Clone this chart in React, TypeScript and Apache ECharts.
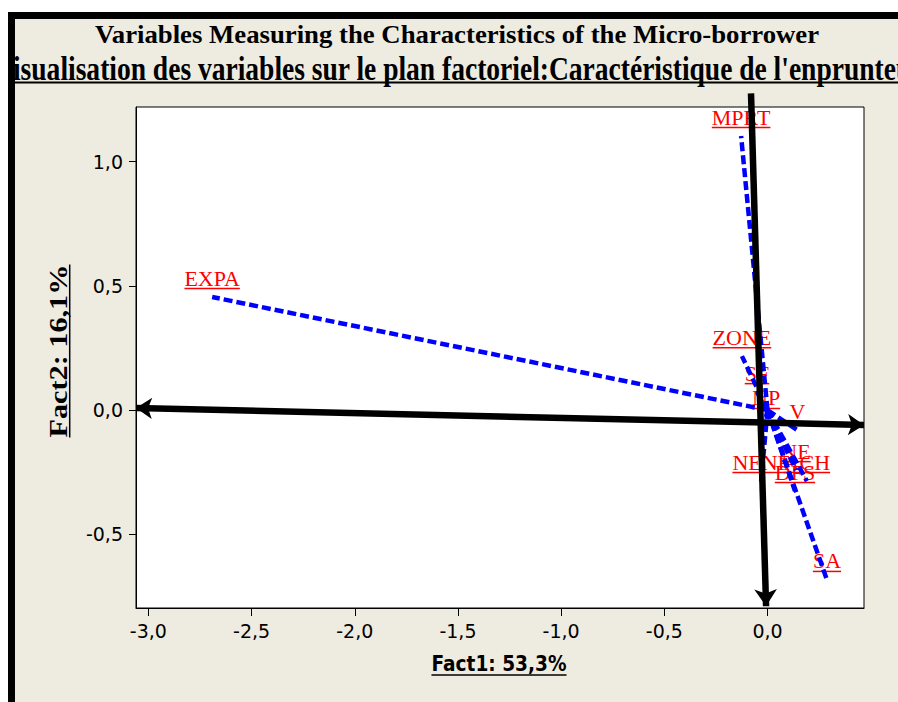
import React, { useEffect, useRef } from 'react';
import * as echarts from 'echarts';

// ---- data ----
const variableNames = ['MPRT', 'EXPA', 'ZONE', 'SF', 'NP', 'V', 'NE', 'NENF', 'ACH', 'DFS', 'SA'];
const fact1Values = [-0.128, -2.691, -0.124, -0.051, -0.007, 0.145, 0.138, -0.031, 0.191, 0.133, 0.288];
const fact2Values = [1.103, 0.455, 0.217, 0.072, -0.028, -0.081, -0.242, -0.286, -0.286, -0.326, -0.684];

const xTickValues = [-3, -2.5, -2, -1.5, -1, -0.5, 0];
const yTickValues = [-0.5, 0, 0.5, 1];
const xRange = [-3.06, 0.4675];
const yRange = [-0.797, 1.22];

// hand-drawn factor axes (arrows) in data coordinates
const horizontalArrow = [[-3.06, 0.008], [0.4675, -0.06]];
const verticalArrow = [[-0.08, 1.275], [-0.007, -0.79]];

const titleLine1 = 'Variables Measuring the Characteristics of the Micro-borrower';
const titleLine2 = "Visualisation des variables sur le plan factoriel:Caractéristique de l'enprunteur";
const xAxisTitle = 'Fact1: 53,3%';
const yAxisTitle = 'Fact2: 16,1%';

const measureCtx = document.createElement('canvas').getContext('2d') as CanvasRenderingContext2D;
function measure(text: string, font: string): number {
  measureCtx.font = font;
  return measureCtx.measureText(text).width;
}

const fmt = (v: number) => v.toFixed(1).replace('.', ',');

export default function App() {
  const ref = useRef<HTMLDivElement>(null);
  useEffect(() => {
    if (!ref.current) return;
    const chart = echarts.init(ref.current, undefined, { renderer: 'svg' });

    const labelFont = "22px 'Liberation Serif'";
    const t1Font = "bold 26px 'Liberation Serif'";
    const t2Font = "bold 33px 'Liberation Serif'";
    const yTitleFont = "bold 26px 'Liberation Serif'";
    const xTitleFont = "bold 22px 'DejaVu Sans'";

    const s1 = 725 / measure(titleLine1, t1Font);
    const visiblePart = titleLine2.slice(1, titleLine2.indexOf('enprunte') + 8);
    const s2 = 884 / measure(visiblePart, t2Font);
    const t2Start = 14 - s2 * measure('V', t2Font);
    const t2Width = measure(titleLine2, t2Font);
    const yTitleW = measure(yAxisTitle, yTitleFont);
    const sy = 173 / yTitleW;
    const xTitleW = measure(xAxisTitle, xTitleFont);
    const sx = 135 / xTitleW;

    const option: any = {
      animation: false,
      backgroundColor: 'transparent',
      grid: {
        left: 136, right: 34, top: 107, bottom: 94,
        show: true, backgroundColor: '#ffffff', borderColor: '#000', borderWidth: 1,
      },
      xAxis: {
        type: 'value', min: xRange[0], max: xRange[1],
        axisLine: { show: true, onZero: false, lineStyle: { color: '#000', width: 1 } },
        axisTick: { show: true, length: 8, customValues: xTickValues, lineStyle: { color: '#000' } },
        axisLabel: {
          customValues: xTickValues, formatter: (v: number) => fmt(v), margin: 13,
          color: '#000', fontFamily: 'DejaVu Sans', fontSize: 19,
        },
        splitLine: { show: false },
      },
      yAxis: {
        type: 'value', min: yRange[0], max: yRange[1],
        axisLine: { show: true, onZero: false, lineStyle: { color: '#000', width: 1 } },
        axisTick: { show: true, length: 7, customValues: yTickValues, lineStyle: { color: '#000' } },
        axisLabel: {
          customValues: yTickValues, formatter: (v: number) => fmt(v), margin: 13,
          color: '#000', fontFamily: 'DejaVu Sans', fontSize: 19,
        },
        splitLine: { show: false },
      },
      series: [
        {
          type: 'custom', z: 2, clip: false,
          data: variableNames.map((n, i) => [fact1Values[i], fact2Values[i]]),
          renderItem: (params: any, api: any) => {
            const p = api.coord([api.value(0), api.value(1)]);
            const name = variableNames[params.dataIndex];
            const w = measure(name, labelFont);
            return {
              type: 'group',
              children: [
                {
                  type: 'text',
                  style: {
                    text: name, x: p[0], y: p[1] - 19, font: labelFont, fill: '#ff0000',
                    align: 'center', verticalAlign: 'middle', textAlign: 'center', textVerticalAlign: 'middle',
                  },
                },
                {
                  type: 'line',
                  shape: { x1: p[0] - w / 2, y1: p[1] - 8.5, x2: p[0] + w / 2, y2: p[1] - 8.5 },
                  style: { stroke: '#ff0000', lineWidth: 1.5 },
                },
              ],
            };
          },
        },
        {
          type: 'lines', coordinateSystem: 'cartesian2d', z: 3, clip: false,
          symbol: ['none', 'none'],
          lineStyle: { color: '#0000ff', width: 4.5, type: [9, 4], opacity: 1 },
          data: variableNames.map((n, i) => ({ coords: [[0, 0], [fact1Values[i], fact2Values[i]]] })),
        },
        {
          type: 'lines', coordinateSystem: 'cartesian2d', z: 4, clip: false,
          symbol: ['arrow', 'arrow'], symbolSize: 16,
          lineStyle: { color: '#000', width: 6.5, opacity: 1 },
          data: [{ coords: horizontalArrow }],
        },
        {
          type: 'lines', coordinateSystem: 'cartesian2d', z: 4, clip: false,
          symbol: ['none', 'arrow'], symbolSize: 17,
          lineStyle: { color: '#000', width: 6.5, opacity: 1 },
          data: [{ coords: verticalArrow }],
        },
      ],
      graphic: [
        {
          type: 'group', x: 457, y: 0, scaleX: s1, z: 10,
          children: [
            {
              type: 'text',
              style: {
                text: titleLine1, x: 0, y: 34.5, font: t1Font, fill: '#000',
                align: 'center', verticalAlign: 'middle', textAlign: 'center', textVerticalAlign: 'middle',
              },
            },
          ],
        },
        {
          type: 'group', x: t2Start, y: 0, scaleX: s2, z: 10,
          children: [
            {
              type: 'text',
              style: {
                text: titleLine2, x: 0, y: 68.8, font: t2Font, fill: '#000',
                align: 'left', verticalAlign: 'middle', textAlign: 'left', textVerticalAlign: 'middle',
              },
            },
            {
              type: 'line',
              shape: { x1: 0, y1: 82.5, x2: t2Width, y2: 82.5 },
              style: { stroke: '#000', lineWidth: 2.2 },
            },
          ],
        },
        { type: 'rect', z: 20, shape: { x: 0, y: 0, width: 8, height: 110 }, style: { fill: '#ffffff' } },
        { type: 'rect', z: 20, shape: { x: 8, y: 12, width: 7, height: 110 }, style: { fill: '#000000' } },
        {
          type: 'group', x: 58.7, y: 351, rotation: Math.PI / 2, scaleX: sy, z: 10,
          children: [
            {
              type: 'text',
              style: {
                text: yAxisTitle, x: 0, y: 0, font: yTitleFont, fill: '#000',
                align: 'center', verticalAlign: 'middle', textAlign: 'center', textVerticalAlign: 'middle',
              },
            },
            {
              type: 'line',
              shape: { x1: -yTitleW / 2, y1: 11, x2: yTitleW / 2, y2: 11 },
              style: { stroke: '#000', lineWidth: 1.5 },
            },
          ],
        },
        {
          type: 'group', x: 499, y: 0, scaleX: sx, z: 10,
          children: [
            {
              type: 'text',
              style: {
                text: xAxisTitle, x: 0, y: 663.9, font: xTitleFont, fill: '#000',
                align: 'center', verticalAlign: 'middle', textAlign: 'center', textVerticalAlign: 'middle',
              },
            },
            {
              type: 'line',
              shape: { x1: -xTitleW / 2, y1: 675, x2: xTitleW / 2, y2: 675 },
              style: { stroke: '#000', lineWidth: 1.5 },
            },
          ],
        },
      ],
    };
    chart.setOption(option);
    return () => chart.dispose();
  }, []);

  return (
    <div style={{ position: 'absolute', left: 0, top: 0, width: 898, height: 702, background: '#ffffff', overflow: 'hidden' }}>
      <div
        style={{
          position: 'absolute', left: 8, top: 12, width: 890, height: 690, boxSizing: 'border-box',
          background: '#EEEBE0', borderLeft: '7px solid #000', borderTop: '7px solid #000',
        }}
      />
      <div ref={ref} style={{ position: 'absolute', left: 0, top: 0, width: 898, height: 702 }} />
    </div>
  );
}
